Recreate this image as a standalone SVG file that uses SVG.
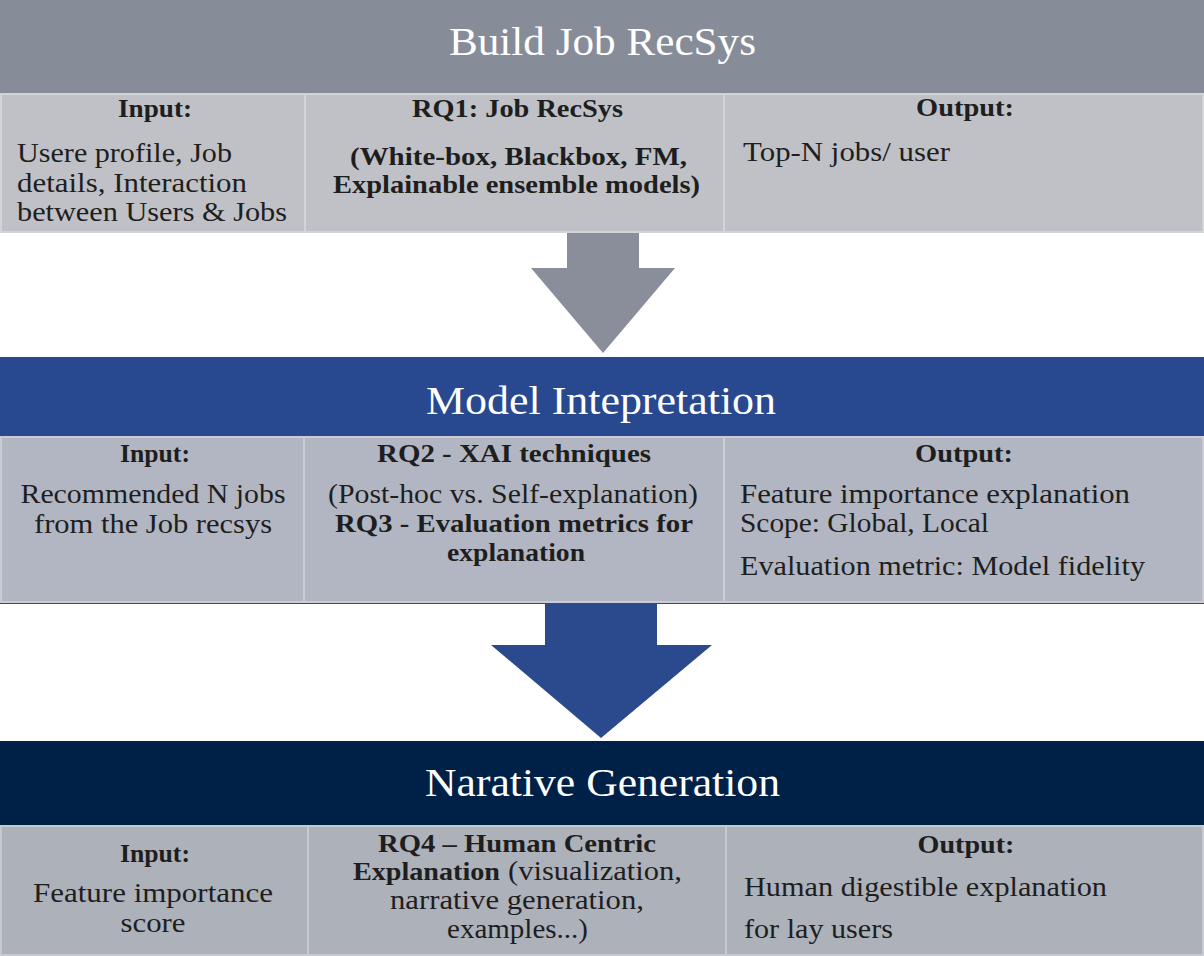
<svg xmlns="http://www.w3.org/2000/svg" width="1204" height="956" viewBox="0 0 1204 956">
<style>
text{font-family:"Liberation Serif","Times New Roman",serif;fill:#1e1e1e}
.t{font-size:40px;fill:#ffffff}
.r{font-size:27px}
.b{font-size:26px;font-weight:bold}
.c1{fill:#bfc1c6;stroke:#d2d4d8;stroke-width:2}
.c2{fill:#b1b6c2;stroke:#c9ccd4;stroke-width:2}
.c3{fill:#adb1ba;stroke:#c6c9cf;stroke-width:2}
</style>
<rect x="0" y="0" width="1204" height="956" fill="#ffffff"/>

<g id="connectors">
  <polygon points="567,232 639,232 639,268 675,268 603,353 531,268 567,268" fill="#8a8e9b"/>
  <polygon points="545,603 657,603 657,645 712,645 601,738 491,645 545,645" fill="#2a4a8d"/>
</g>

<g id="build-job-recsys">
  <rect x="0" y="0" width="1204" height="93" fill="#878c99"/>
  <text class="t" x="449" y="55" textLength="307" lengthAdjust="spacingAndGlyphs">Build Job RecSys</text>
  <rect class="c1" x="1" y="94" width="304" height="138"/>
  <rect class="c1" x="305" y="94" width="419" height="138"/>
  <rect class="c1" x="724" y="94" width="479" height="138"/>
  <text class="b" x="155" y="117" text-anchor="middle" textLength="74" lengthAdjust="spacingAndGlyphs">Input:</text>
  <text class="r" x="17" y="162" textLength="215" lengthAdjust="spacingAndGlyphs">Usere profile, Job</text>
  <text class="r" x="17" y="192" textLength="230" lengthAdjust="spacingAndGlyphs">details, Interaction</text>
  <text class="r" x="17" y="221" textLength="270" lengthAdjust="spacingAndGlyphs">between Users &amp; Jobs</text>
  <text class="b" x="412" y="117" textLength="211" lengthAdjust="spacingAndGlyphs">RQ1: Job RecSys</text>
  <text class="b" x="350" y="165" textLength="337" lengthAdjust="spacingAndGlyphs">(White-box, Blackbox, FM,</text>
  <text class="b" x="333" y="193" textLength="367" lengthAdjust="spacingAndGlyphs">Explainable ensemble models)</text>
  <text class="b" x="965" y="116" text-anchor="middle" textLength="98" lengthAdjust="spacingAndGlyphs">Output:</text>
  <text class="r" x="743" y="161" textLength="207" lengthAdjust="spacingAndGlyphs">Top-N jobs/ user</text>
</g>

<g id="model-interpretation">
  <rect x="0" y="357" width="1204" height="79" fill="#284990"/>
  <text class="t" x="426" y="414" textLength="350" lengthAdjust="spacingAndGlyphs">Model Intepretation</text>
  <rect x="0" y="436" width="1204" height="168" fill="#2a4a8d"/>
  <rect class="c2" x="1" y="437" width="303" height="165"/>
  <rect class="c2" x="304" y="437" width="420" height="165"/>
  <rect class="c2" x="724" y="437" width="479" height="165"/>
  <text class="b" x="155" y="462" text-anchor="middle" textLength="70" lengthAdjust="spacingAndGlyphs">Input:</text>
  <text class="r" x="153" y="503" text-anchor="middle" textLength="265" lengthAdjust="spacingAndGlyphs">Recommended N jobs</text>
  <text class="r" x="153" y="533" text-anchor="middle" textLength="238" lengthAdjust="spacingAndGlyphs">from the Job recsys</text>
  <text class="b" x="377" y="462" textLength="274" lengthAdjust="spacingAndGlyphs">RQ2 - XAI techniques</text>
  <text class="r" x="328" y="503" textLength="370" lengthAdjust="spacingAndGlyphs">(Post-hoc vs. Self-explanation)</text>
  <text class="b" x="335" y="532" textLength="358" lengthAdjust="spacingAndGlyphs">RQ3 - Evaluation metrics for</text>
  <text class="b" x="447" y="561" textLength="138" lengthAdjust="spacingAndGlyphs">explanation</text>
  <text class="b" x="964" y="462" text-anchor="middle" textLength="98" lengthAdjust="spacingAndGlyphs">Output:</text>
  <text class="r" x="740" y="503" textLength="390" lengthAdjust="spacingAndGlyphs">Feature importance explanation</text>
  <text class="r" x="740" y="532" textLength="249" lengthAdjust="spacingAndGlyphs">Scope: Global, Local</text>
  <text class="r" x="740" y="575" textLength="405" lengthAdjust="spacingAndGlyphs">Evaluation metric: Model fidelity</text>
</g>

<g id="narrative-generation">
  <rect x="0" y="741" width="1204" height="84" fill="#002147"/>
  <text class="t" x="425" y="796" textLength="355" lengthAdjust="spacingAndGlyphs">Narative Generation</text>
  <rect class="c3" x="1" y="826" width="307" height="129"/>
  <rect class="c3" x="308" y="826" width="418" height="129"/>
  <rect class="c3" x="726" y="826" width="477" height="129"/>
  <text class="b" x="155" y="862" text-anchor="middle" textLength="70" lengthAdjust="spacingAndGlyphs">Input:</text>
  <text class="r" x="153" y="902" text-anchor="middle" textLength="240" lengthAdjust="spacingAndGlyphs">Feature importance</text>
  <text class="r" x="153" y="932" text-anchor="middle" textLength="65" lengthAdjust="spacingAndGlyphs">score</text>
  <text class="b" x="378" y="852" textLength="278" lengthAdjust="spacingAndGlyphs">RQ4 – Human Centric</text>
  <text class="b" x="353" y="880" textLength="147" lengthAdjust="spacingAndGlyphs">Explanation</text>
  <text class="r" x="508" y="880" textLength="174" lengthAdjust="spacingAndGlyphs">(visualization,</text>
  <text class="r" x="390" y="909" textLength="254" lengthAdjust="spacingAndGlyphs">narrative generation,</text>
  <text class="r" x="447" y="938" textLength="141" lengthAdjust="spacingAndGlyphs">examples...)</text>
  <text class="b" x="966" y="853" text-anchor="middle" textLength="97" lengthAdjust="spacingAndGlyphs">Output:</text>
  <text class="r" x="744" y="896" textLength="363" lengthAdjust="spacingAndGlyphs">Human digestible explanation</text>
  <text class="r" x="744" y="938" textLength="149" lengthAdjust="spacingAndGlyphs">for lay users</text>
</g>
</svg>
